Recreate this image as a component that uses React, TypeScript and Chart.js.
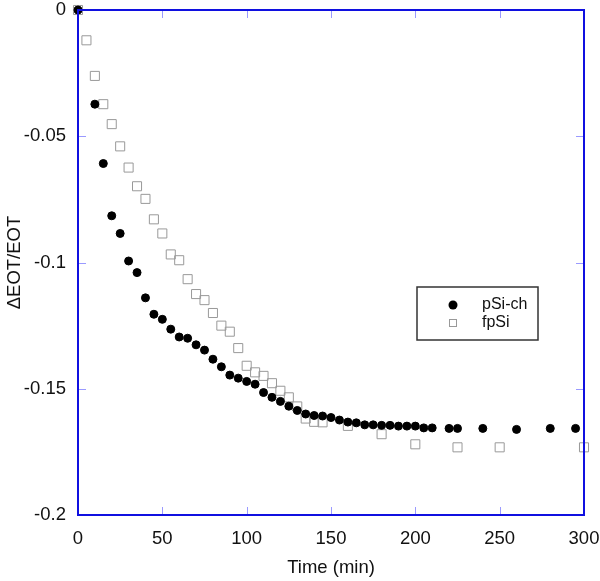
import React, { useEffect, useRef } from "react";
import { Chart, registerables } from "chart.js";

Chart.register(...registerables);

const pSiX = [0, 10, 15, 20, 25, 30, 35, 40, 45, 50, 55, 60, 65, 70, 75, 80, 85, 90, 95, 100, 105, 110, 115, 120, 125, 130, 135, 140, 145, 150, 155, 160, 165, 170, 175, 180, 185, 190, 195, 200, 205, 210, 220, 225, 240, 260, 280, 295];
const pSiY = [0, -0.0373, -0.0608, -0.0815, -0.0885, -0.0994, -0.104, -0.114, -0.1205, -0.1225, -0.1264, -0.1295, -0.13, -0.1326, -0.1347, -0.1383, -0.1413, -0.1446, -0.1458, -0.1471, -0.1482, -0.1515, -0.1534, -0.155, -0.1569, -0.1586, -0.16, -0.1606, -0.1608, -0.1614, -0.1624, -0.1632, -0.1635, -0.1643, -0.1643, -0.1645, -0.1645, -0.1648, -0.1648, -0.1648, -0.1655, -0.1655, -0.1657, -0.1657, -0.1657, -0.1661, -0.1657, -0.1657];

const fpSiX = [0, 5, 10, 15, 20, 25, 30, 35, 40, 45, 50, 55, 60, 65, 70, 75, 80, 85, 90, 95, 100, 105, 110, 115, 120, 125, 130, 135, 140, 145, 160, 180, 200, 225, 250, 300];
const fpSiY = [0, -0.012, -0.0261, -0.0373, -0.0452, -0.054, -0.0624, -0.0698, -0.0748, -0.0829, -0.0885, -0.0968, -0.0991, -0.1066, -0.1125, -0.1149, -0.12, -0.125, -0.1274, -0.1339, -0.1409, -0.1435, -0.1449, -0.1478, -0.1508, -0.1534, -0.157, -0.1618, -0.1631, -0.1633, -0.1647, -0.168, -0.172, -0.1732, -0.1732, -0.1732];

const xTicks = [0, 50, 100, 150, 200, 250, 300];
const yTicks = [0, -0.05, -0.1, -0.15, -0.2];
const seriesNames = ["pSi-ch", "fpSi"];
const xTitle = "Time (min)";
const yTitle = "ΔEOT/EOT";

const FONT = "'Liberation Sans', Arial, sans-serif";

const framePlugin = {
  id: "frameTicks",
  afterDatasetsDraw(chart: any) {
    const { ctx, chartArea: a, scales } = chart;
    const x = scales.x;
    const y = scales.y;
    ctx.save();
    ctx.strokeStyle = "#9a9aff";
    ctx.lineWidth = 1;
    const L = 8;
    ctx.beginPath();
    xTicks.forEach((v) => {
      const px = Math.round(x.getPixelForValue(v)) + 0.5;
      ctx.moveTo(px, a.bottom);
      ctx.lineTo(px, a.bottom - L);
      ctx.moveTo(px, a.top);
      ctx.lineTo(px, a.top + L);
    });
    yTicks.forEach((v) => {
      const py = Math.round(y.getPixelForValue(v)) + 0.5;
      ctx.moveTo(a.left, py);
      ctx.lineTo(a.left + L, py);
      ctx.moveTo(a.right, py);
      ctx.lineTo(a.right - L, py);
    });
    ctx.stroke();
    ctx.strokeStyle = "#1010e0";
    ctx.lineWidth = 2;
    ctx.strokeRect(a.left, a.top, a.right - a.left, a.bottom - a.top);
    ctx.restore();
  },
  afterDraw(chart: any) {
    const { ctx } = chart;
    const left = 417, top = 287, w = 121, h = 53;
    ctx.save();
    ctx.strokeStyle = "#333";
    ctx.lineWidth = 1.5;
    ctx.strokeRect(left, top, w, h);
    const rows = [305, 323];
    ctx.beginPath();
    ctx.arc(453, rows[0], 4.5, 0, Math.PI * 2);
    ctx.fillStyle = "#000";
    ctx.fill();
    ctx.strokeStyle = "#999";
    ctx.lineWidth = 1;
    ctx.strokeRect(449.5, rows[1] - 3.5, 7, 7);
    ctx.font = `16px ${FONT}`;
    ctx.fillStyle = "#111";
    ctx.textBaseline = "middle";
    ctx.textAlign = "left";
    ctx.fillText(chart.data.datasets[0].label, 482, rows[0]);
    ctx.fillText(chart.data.datasets[1].label, 482, rows[1]);
    ctx.restore();
  },
};

export default function App() {
  const ref = useRef<HTMLCanvasElement>(null);
  useEffect(() => {
    document.body.style.margin = "0";
    const canvas = ref.current!;
    const chart = new Chart(canvas, {
      type: "scatter",
      data: {
        datasets: [
          {
            label: seriesNames[0],
            data: pSiX.map((x, i) => ({ x, y: pSiY[i] })),
            pointStyle: "circle",
            pointRadius: 4,
            borderWidth: 1,
            backgroundColor: "#000",
            borderColor: "#000",
            clip: false,
          },
          {
            label: seriesNames[1],
            data: fpSiX.map((x, i) => ({ x, y: fpSiY[i] })),
            pointStyle: "rect",
            pointRadius: 6.4,
            borderWidth: 1,
            backgroundColor: "rgba(0,0,0,0)",
            borderColor: "#999",
            clip: false,
          },
        ],
      },
      options: {
        animation: false,
        responsive: false,
        layout: { padding: { left: 0, right: 16, top: 10, bottom: 0 } },
        plugins: {
          legend: { display: false },
          tooltip: { enabled: false },
        },
        scales: {
          x: {
            type: "linear",
            min: 0,
            max: 300,
            afterBuildTicks: (s: any) => {
              s.ticks = xTicks.map((v) => ({ value: v }));
            },
            afterFit: (s: any) => {
              s.height = 66;
              s.paddingLeft = 0;
              s.paddingRight = 0;
            },
            grid: { display: false, drawTicks: false },
            border: { display: false },
            ticks: {
              color: "#111",
              font: { family: FONT, size: 18.5 },
              padding: 13,
              maxRotation: 0,
            },
            title: {
              display: true,
              text: xTitle,
              color: "#111",
              font: { family: FONT, size: 18.5 },
              padding: { top: 4, bottom: 2 },
            },
          },
          y: {
            type: "linear",
            min: -0.2,
            max: 0,
            afterBuildTicks: (s: any) => {
              s.ticks = yTicks.map((v) => ({ value: v }));
            },
            afterFit: (s: any) => {
              s.width = 78;
              s.paddingTop = 0;
              s.paddingBottom = 0;
            },
            grid: { display: false, drawTicks: false },
            border: { display: false },
            ticks: {
              color: "#111",
              font: { family: FONT, size: 18.5 },
              padding: 12,
              callback: (v: any) => String(Number(v)),
            },
            title: {
              display: true,
              text: yTitle,
              color: "#111",
              font: { family: FONT, size: 18.5 },
              padding: { top: 4, bottom: 0 },
            },
          },
        },
      },
      plugins: [framePlugin],
    });
    return () => chart.destroy();
  }, []);
  return (
    <div style={{ width: 600, height: 581, background: "#fff" }}>
      <canvas ref={ref} width={600} height={581} style={{ display: "block" }} />
    </div>
  );
}
